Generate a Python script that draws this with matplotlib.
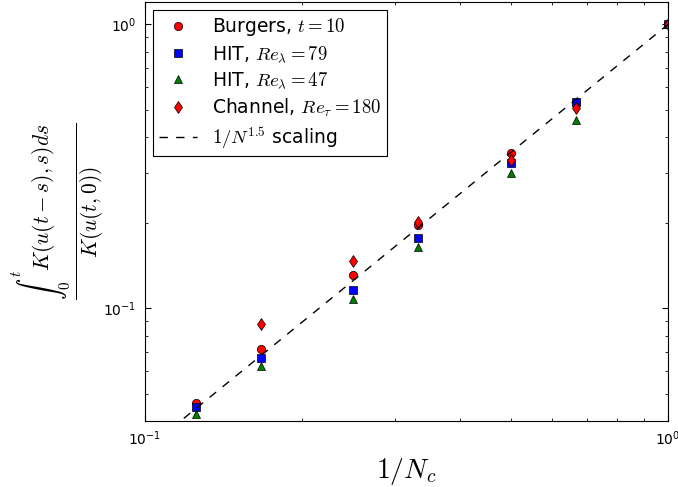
import numpy as np
import matplotlib
matplotlib.use("Agg")
import matplotlib.pyplot as plt
from matplotlib.ticker import FuncFormatter, NullFormatter

plt.rcParams['mathtext.fontset'] = 'cm'
plt.rcParams['font.family'] = 'DejaVu Sans'

# Data
Nc = np.array([8, 6, 4, 3, 2, 1.5, 1])
burgers = [0.0462, 0.0719, 0.1306, 0.197, 0.351, 0.525, 1.0]
hit79 = [0.0449, 0.0665, 0.1157, 0.176, 0.325, 0.531, 1.0]
hit47 = [0.0422, 0.0625, 0.108, 0.164, 0.300, 0.459, 1.0]
Nc_channel = np.array([6, 4, 3, 2, 1.5, 1])
channel = [0.0879, 0.1467, 0.201, 0.334, 0.509, 1.0]
scaling_x = np.array([0.1, 1.0])
scaling_exp = 1.5

fig = plt.figure(figsize=(6.78, 4.87), dpi=100)
ax = fig.add_axes([145/678, 1-421/487, (668-145)/678, (421-2)/487])

mk = dict(linestyle='none', markersize=6, markeredgecolor='k', markeredgewidth=0.5)
ax.plot(1/Nc, burgers, marker='o', color='r', label=r'Burgers, $t=10$', **mk)
ax.plot(1/Nc, hit79, marker='s', color='b', label=r'HIT, $Re_\lambda=79$', **mk)
ax.plot(1/Nc, hit47, marker='^', color=(0, 0.5, 0), label=r'HIT, $Re_\lambda=47$', **mk)
ax.plot(1/Nc_channel, channel, marker='d', color='r', label=r'Channel, $Re_\tau=180$', **mk)
ax.plot(scaling_x, scaling_x**scaling_exp, color='k', lw=1, dashes=(6, 6),
        label=r'$1/N^{1.5}$ scaling')

ax.set_xscale('log')
ax.set_yscale('log')
ax.set_xlim(0.1, 1.0)
ax.set_ylim(0.04, 1.2)

fmt = FuncFormatter(lambda v, p: r'$\mathregular{10^{%d}}$' % int(round(np.log10(v))))
ax.xaxis.set_major_formatter(fmt)
ax.yaxis.set_major_formatter(fmt)
ax.xaxis.set_minor_formatter(NullFormatter())
ax.yaxis.set_minor_formatter(NullFormatter())
ax.tick_params(which='both', direction='in', top=True, right=True, labelsize=10)
ax.tick_params(which='major', length=4, width=0.8, pad=6)
ax.tick_params(which='minor', length=2, width=0.6)

ax.set_xlabel(r'$1/N_c$', fontsize=20, labelpad=6)
ax.set_ylabel(r'$\frac{\int_0^t K(u(t-s),s)ds}{K(u(t,0))}$', fontsize=22, labelpad=-2)

leg = ax.legend(loc='upper left', numpoints=1, fontsize=13.5, fancybox=False,
                framealpha=1, edgecolor='k', handlelength=2.0, handletextpad=0.8,
                borderpad=0.3, labelspacing=0.33, borderaxespad=0.45)
leg.get_frame().set_linewidth(0.8)

fig.savefig('out.png', dpi=100)
